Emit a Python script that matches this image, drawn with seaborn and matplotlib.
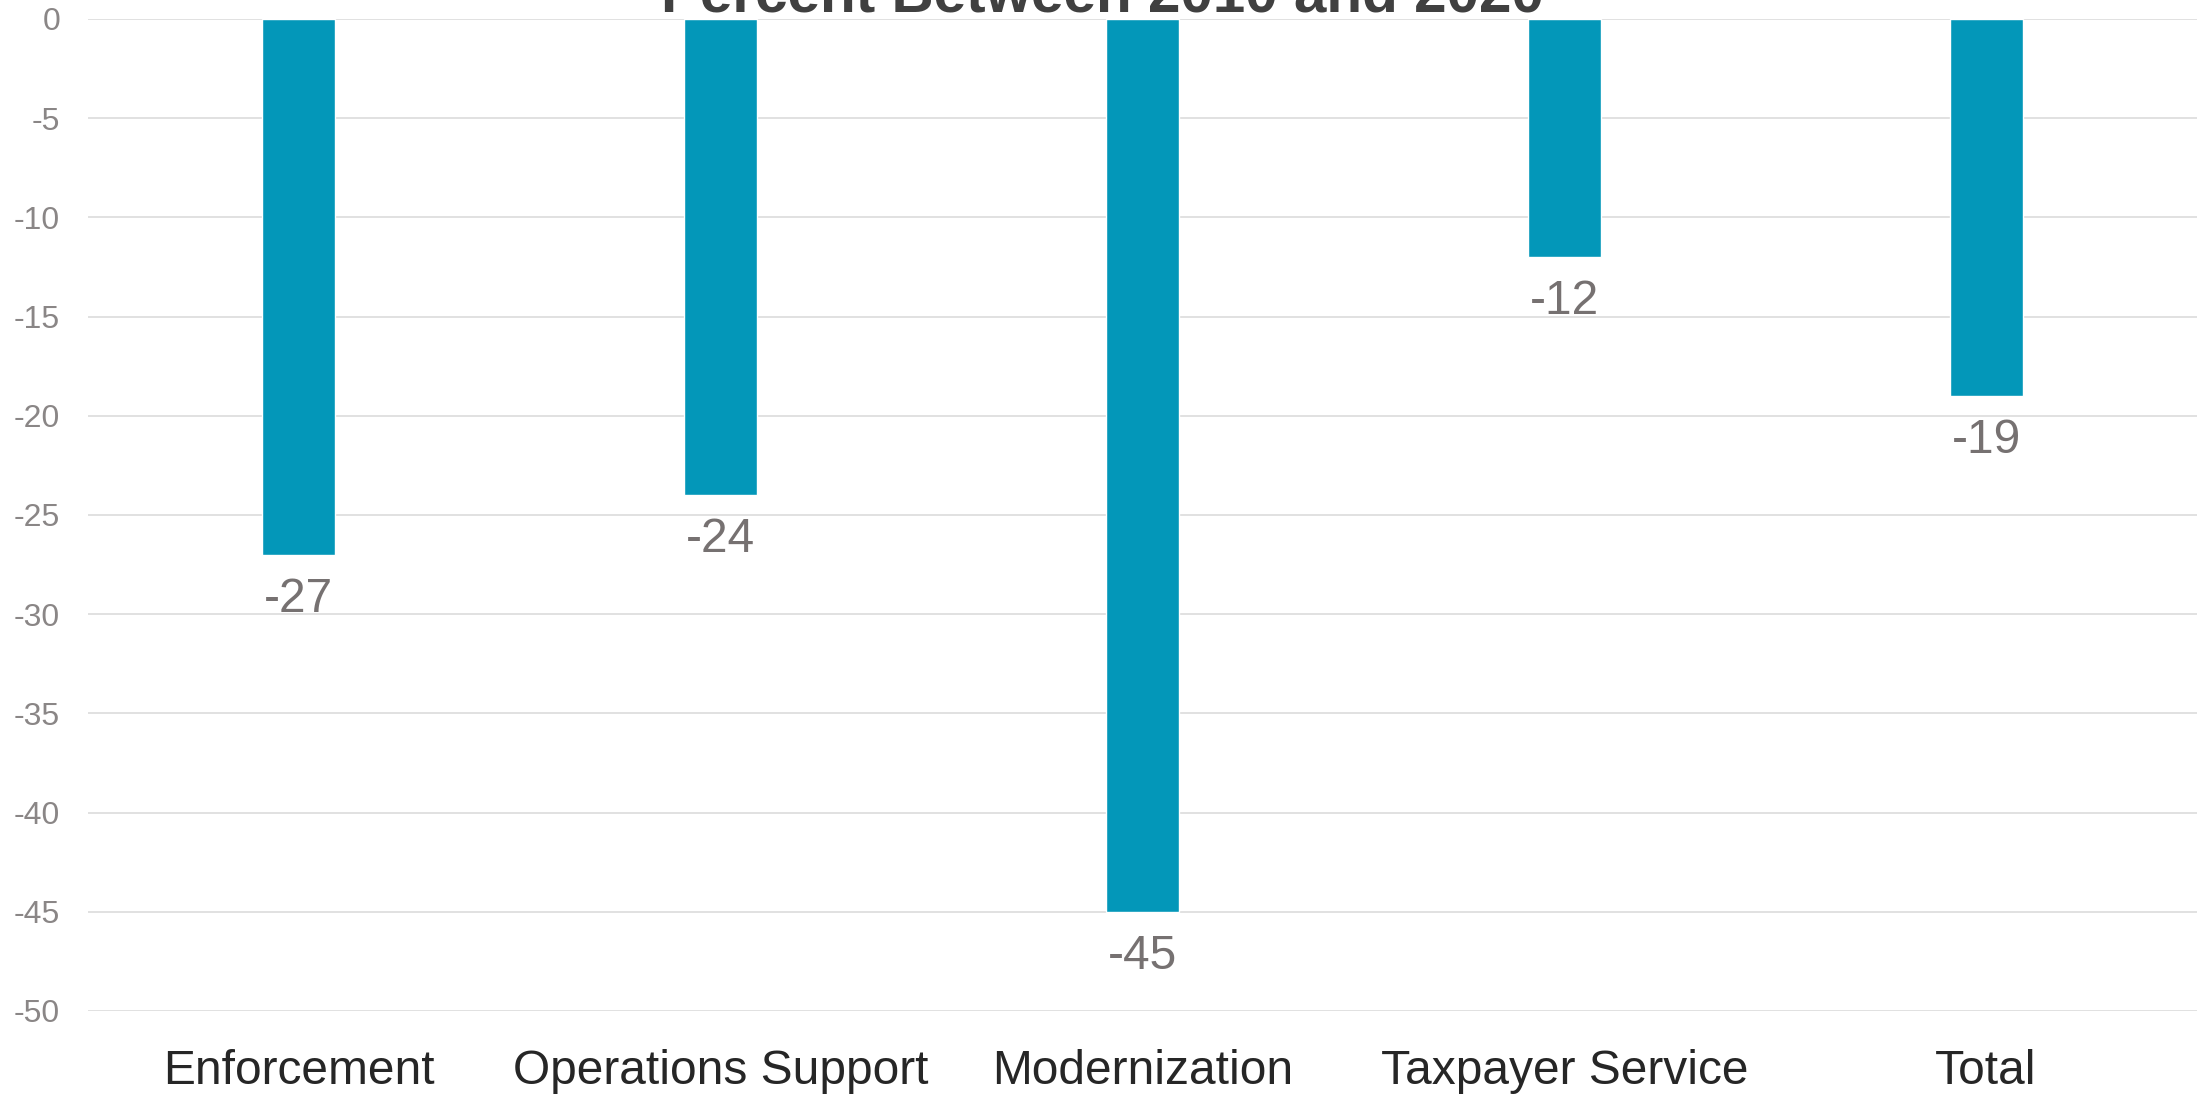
import matplotlib
matplotlib.use("Agg")
import matplotlib.pyplot as plt
import seaborn as sns
import pandas as pd

categories = ["Enforcement", "Operations Support", "Modernization", "Taxpayer Service", "Total"]
values = [-27, -24, -45, -12, -19]
yticks = [0, -5, -10, -15, -20, -25, -30, -35, -40, -45, -50]
title = "Percent Between 2010 and 2020"

sns.set_theme(style="white")
plt.rcParams["font.family"] = ["Liberation Sans", "DejaVu Sans"]
plt.rcParams["axes.unicode_minus"] = False

df = pd.DataFrame({"category": categories, "value": values})

W, H = 2197, 1094
fig = plt.figure(figsize=(W / 100, H / 100), dpi=100)
ax = fig.add_axes([88 / W, 1 - 1011 / H, 1 - 88 / W, (1011 - 19) / H])

sns.barplot(data=df, x="category", y="value", color="#0397B9", saturation=1,
            width=0.173, ax=ax, order=categories)

ax.set_ylim(-50, 0)
ax.set_xlim(-0.5, len(categories) - 0.5)
ax.set_yticks(yticks)
ax.set_yticklabels([str(t) for t in yticks])
ax.yaxis.grid(True, color="#d9d9d9", linewidth=1.1)
ax.set_axisbelow(True)
for s in ax.spines.values():
    s.set_visible(False)
ax.set_xlabel("")
ax.set_ylabel("")
ax.tick_params(axis="y", length=0, pad=20, labelsize=23, labelcolor="#8a8686")
ax.tick_params(axis="x", length=0, pad=27, labelsize=34.5, labelcolor="#262626")

for c in ax.containers:
    ax.bar_label(c, fmt="%d", padding=16, fontsize=34.5, color="#767171")

fig.text(1102 / W, 1 - 12 / H, title, ha="center", va="baseline",
         fontsize=42, fontweight="bold", color="#404040")

fig.savefig("out.png", dpi=100)
